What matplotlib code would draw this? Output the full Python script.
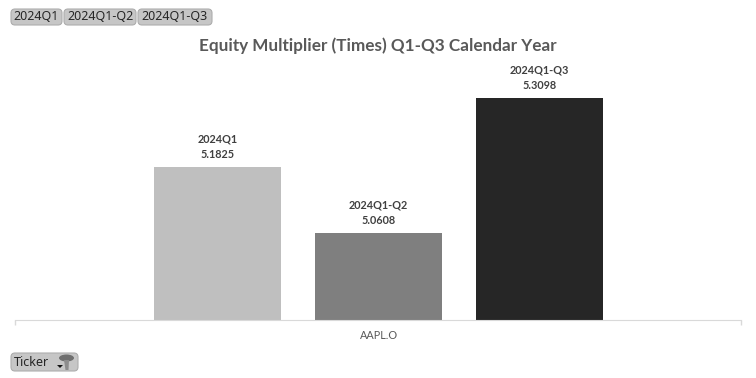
#!/usr/bin/env python3
import matplotlib
matplotlib.use("Agg")
import matplotlib.pyplot as plt
from matplotlib.patches import Ellipse, FancyBboxPatch, Polygon
from matplotlib.transforms import Affine2D

periods = ["2024Q1", "2024Q1-Q2", "2024Q1-Q3"]
values = [5.1825, 5.0608, 5.3098]
ticker = "AAPL.O"
bar_colors = ["#bfbfbf", "#7f7f7f", "#262626"]

W, H = 756, 378
plt.rcParams["font.family"] = ["Lato", "DejaVu Sans"]

fig = plt.figure(figsize=(W / 100, H / 100), dpi=100)
ax = fig.add_axes([15 / W, 1 - 320 / H, 726 / W, 260 / H])

offset = 161 / 726
for i, (p, v) in enumerate(zip(periods, values)):
    x = (i - 1) * offset
    ax.bar(x, v, width=127 / 726, color=bar_colors[i])
    ax.annotate(p + "\n" + f"{v:.4f}", (x, v), xytext=(0.5, 5), textcoords="offset points",
                ha="center", va="bottom", fontsize=7.8, fontweight="bold",
                color="#404040", linespacing=1.4)

ax.set_xlim(-0.5, 0.5)
ax.set_ylim(4.8994, 5.379)
ax.set_yticks([])
ax.set_xticks([-0.5, 0.5])
ax.set_xticklabels(["", ""])
ax.tick_params(axis="x", length=3.5, width=1, color="#d9d9d9", direction="out")
for s in ["top", "left", "right"]:
    ax.spines[s].set_visible(False)
ax.spines["bottom"].set_color("#d9d9d9")
ax.annotate(ticker, (0, 0), xycoords=("data", "axes fraction"), xytext=(0.5, -7.5),
            textcoords="offset points", ha="center", va="top", fontsize=7.8, color="#595959")

fig.text(377.5 / W, 1 - 46 / H, "Equity Multiplier (Times) Q1-Q3 Calendar Year", ha="center",
         va="center", fontsize=12.3, fontweight="bold", color="#595959")

# pixel coords, y going down
px = Affine2D().scale(1, -1).translate(0, H)


def button(x0, y0, x1, y1, label, tx=None):
    fig.add_artist(FancyBboxPatch((x0 + 4, y0 + 4), x1 - x0 - 8, y1 - y0 - 8,
                                  boxstyle="round,pad=4,rounding_size=4",
                                  fc="#c6c6c6", ec="#adadad", lw=0.8, transform=px))
    fig.text(((x0 + x1) / 2 if tx is None else tx) / W, 1 - (y0 + y1) / 2 / H, label,
             ha="center" if tx is None else "left", va="center", fontsize=9,
             color="#262626", family=["Noto Sans", "DejaVu Sans"])


button(11, 9, 62, 25, periods[0])
button(64, 9, 136, 25, periods[1])
button(138, 9, 212, 25, periods[2])
button(11, 353, 78, 371, "Ticker", tx=14)

# sort arrow and filter icon on the field button
fig.add_artist(Polygon([(57, 365), (63, 365), (60, 368)], fc="#111111", ec="none", transform=px))
fig.add_artist(Ellipse((66.5, 358), 15, 7, fc="#6f6f6f", ec="none", transform=px))
fig.add_artist(Polygon([(64, 360), (69, 360), (68.5, 370), (65.5, 370)],
                       fc="#8c8c8c", ec="none", transform=px))

fig.savefig("out.png", dpi=100)
